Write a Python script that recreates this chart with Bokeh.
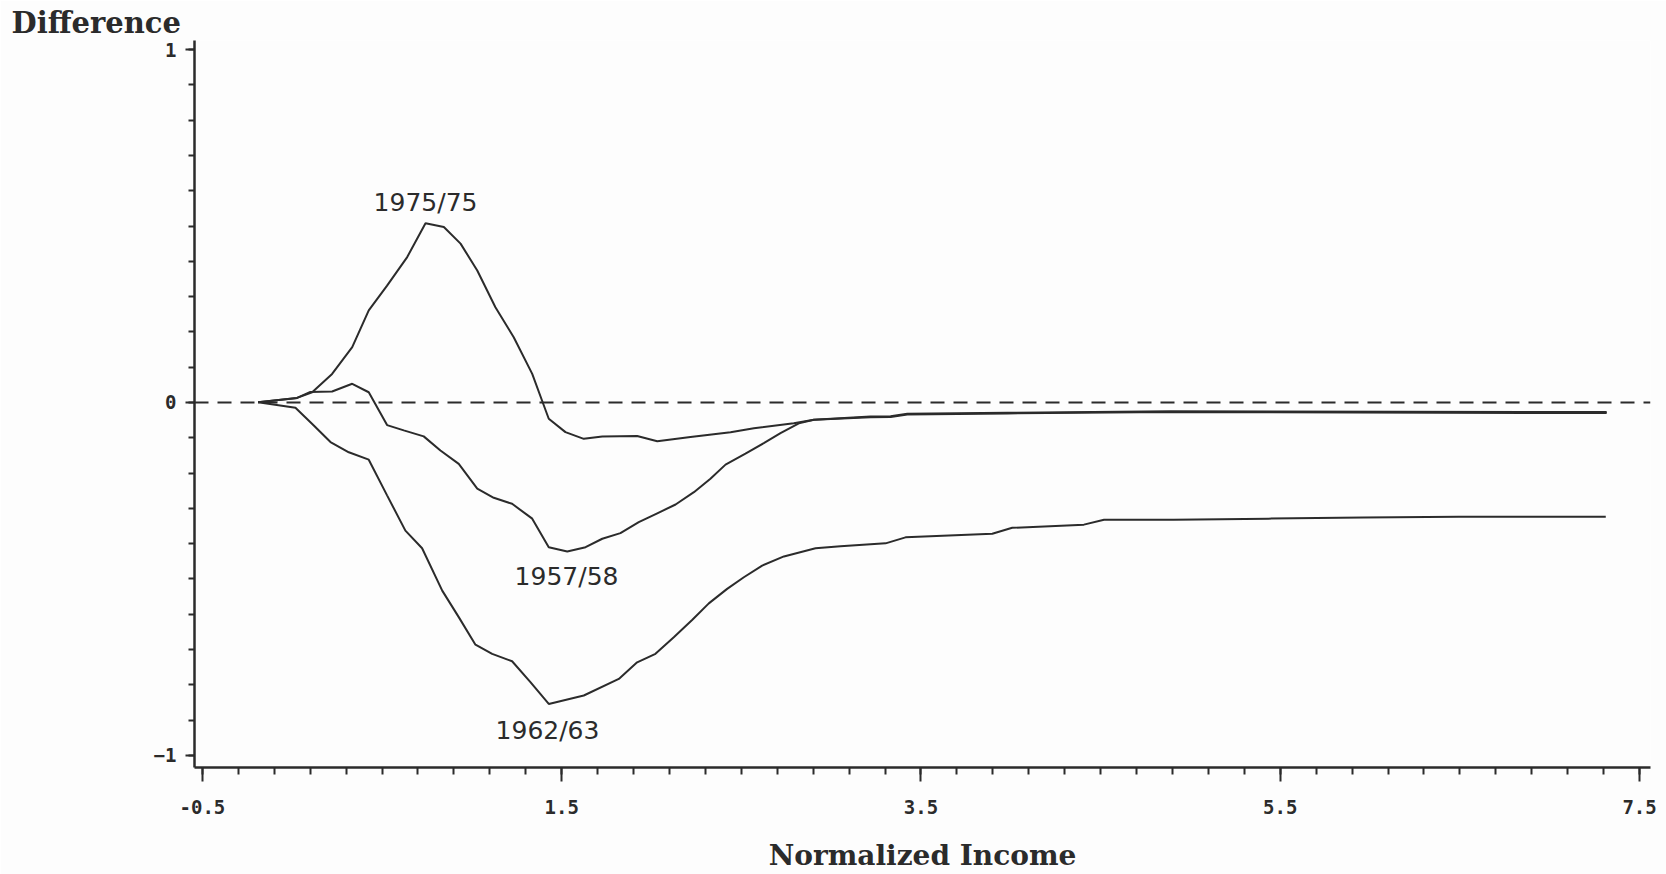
from bokeh.plotting import figure
from bokeh.models import Range1d, FixedTicker, Span, Title
from bokeh.core.properties import value
from bokeh.embed import file_html
from bokeh.resources import INLINE
import numpy as np

# Normalized income (x) and difference (y) for each survey pair
x_7575 = [-0.19, 0.027, 0.111, 0.222, 0.334, 0.426, 0.528, 0.640, 0.742, 0.844, 0.937, 1.030,
          1.131, 1.233, 1.336, 1.391, 1.428, 1.521, 1.623, 1.726, 1.920, 2.032, 2.217, 2.440,
          2.570, 2.792, 2.904, 3.219, 3.331, 3.424, 3.981, 4.890, 7.317]
y_7575 = [0.001, 0.013, 0.029, 0.081, 0.157, 0.261, 0.331, 0.412, 0.508, 0.497, 0.450, 0.374,
          0.270, 0.185, 0.081, 0.005, -0.046, -0.084, -0.103, -0.096, -0.095, -0.110, -0.098, -0.084,
          -0.073, -0.059, -0.049, -0.040, -0.039, -0.032, -0.029, -0.025, -0.027]

x_5758 = [-0.19, 0.027, 0.101, 0.222, 0.334, 0.426, 0.528, 0.621, 0.732, 0.825, 0.927, 1.030,
          1.122, 1.224, 1.336, 1.428, 1.531, 1.633, 1.726, 1.827, 1.929, 2.032, 2.134, 2.236,
          2.328, 2.412, 2.523, 2.625, 2.718, 2.820, 2.904, 3.219, 3.331, 3.424, 3.981, 4.890, 7.317]
y_5758 = [0.001, 0.013, 0.030, 0.031, 0.053, 0.029, -0.064, -0.079, -0.096, -0.136, -0.174, -0.244,
          -0.270, -0.287, -0.329, -0.410, -0.422, -0.410, -0.386, -0.370, -0.339, -0.314, -0.289, -0.254,
          -0.216, -0.176, -0.145, -0.115, -0.087, -0.059, -0.049, -0.042, -0.041, -0.034, -0.031, -0.027, -0.030]

x_6263 = [-0.19, 0.018, 0.120, 0.213, 0.315, 0.426, 0.528, 0.630, 0.723, 0.835, 0.927, 1.020,
          1.113, 1.224, 1.326, 1.428, 1.623, 1.818, 1.920, 2.022, 2.124, 2.226, 2.319, 2.421,
          2.514, 2.616, 2.737, 2.913, 3.052, 3.303, 3.414, 3.897, 4.008, 4.407, 4.519, 4.906,
          5.435, 5.964, 6.493, 7.312]
y_6263 = [0.001, -0.015, -0.065, -0.112, -0.141, -0.162, -0.263, -0.363, -0.413, -0.533, -0.608, -0.686,
          -0.712, -0.733, -0.792, -0.854, -0.830, -0.783, -0.736, -0.712, -0.665, -0.616, -0.569, -0.528,
          -0.495, -0.462, -0.436, -0.413, -0.407, -0.399, -0.382, -0.372, -0.355, -0.346, -0.332, -0.332,
          -0.329, -0.326, -0.324, -0.324]

series_names = ["1975/75", "1957/58", "1962/63"]
label_x = [0.742, 1.527, 1.421]
label_y = [0.567, -0.493, -0.929]

x_major = [-0.5, 1.5, 3.5, 5.5, 7.5]
y_major = [-1, 0, 1]

INK = "#2b2b2b"
PAPER = "#fdfdfd"

p = figure(width=1666, height=874, output_backend="svg", toolbar_location=None,
           x_range=Range1d(-0.544, 7.561), y_range=Range1d(-1.034, 1.0255),
           min_border_left=194, min_border_right=16, min_border_top=40, min_border_bottom=107,
           background_fill_color=PAPER, border_fill_color=PAPER, outline_line_color=None)
p.grid.visible = False

# Axis heading placed top-left, horizontal
head = Title(text="Difference", align="left", offset=-183, standoff=2,
             text_font="DejaVu Serif", text_font_style="bold", text_font_size="29px",
             text_color=INK)
p.add_layout(head, "above")

# Zero reference
p.add_layout(Span(location=0, dimension="width", line_color=INK, line_width=2,
                  line_dash="14 9"))

for xs, ys in [(x_7575, y_7575), (x_5758, y_5758), (x_6263, y_6263)]:
    p.line(xs, ys, line_color=INK, line_width=2)

p.text(x=label_x, y=label_y, text=series_names, text_align="center", text_baseline="middle",
       text_font=value("DejaVu Sans"), text_font_size="25px", text_color=INK)

xa = p.xaxis[0]
xa.ticker = FixedTicker(ticks=x_major, minor_ticks=list(np.round(np.arange(-0.5, 7.51, 0.2), 2)))
xa.major_label_overrides = {-0.5: "-0.5", 1.5: "1.5", 3.5: "3.5", 5.5: "5.5", 7.5: "7.5"}
xa.axis_label = "Normalized Income"
xa.axis_label_text_font = "DejaVu Serif"
xa.axis_label_text_font_style = "bold"
xa.axis_label_text_font_size = "28px"
xa.axis_label_text_color = INK
xa.axis_label_standoff = 22
xa.major_tick_out = 14
xa.major_tick_in = 0
xa.minor_tick_out = 7
xa.minor_tick_in = 0
xa.major_label_standoff = 18

ya = p.yaxis[0]
ya.ticker = FixedTicker(ticks=y_major, minor_ticks=list(np.round(np.arange(-1, 1.01, 0.1), 2)))
ya.major_tick_out = 9
ya.major_tick_in = 0
ya.minor_tick_out = 6
ya.minor_tick_in = 0
ya.major_label_standoff = 9

for ax in (xa, ya):
    ax.axis_line_color = INK
    ax.axis_line_width = 2.5
    ax.major_tick_line_color = INK
    ax.major_tick_line_width = 2
    ax.minor_tick_line_color = INK
    ax.minor_tick_line_width = 2
    ax.major_label_text_font = "DejaVu Sans Mono"
    ax.major_label_text_font_style = "bold"
    ax.major_label_text_font_size = "19px"
    ax.major_label_text_color = INK

open("out.html", "w").write(file_html(p, INLINE))
